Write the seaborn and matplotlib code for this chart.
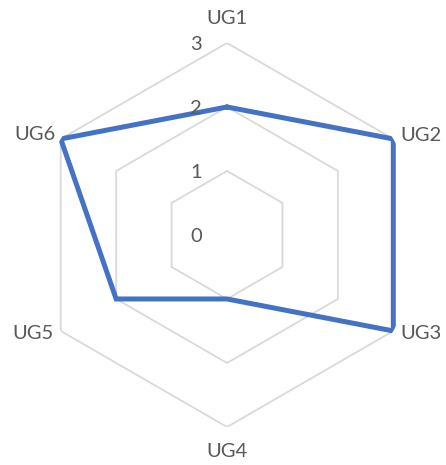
import numpy as np
import seaborn as sns
import matplotlib
matplotlib.use('Agg')
from matplotlib import pyplot as plt
from matplotlib.transforms import offset_copy

# data
categories = ['UG1', 'UG2', 'UG3', 'UG4', 'UG5', 'UG6']
scores = [2, 3, 3, 1, 2, 3]
tick_values = [0, 1, 2, 3]
tick_labels = ['0', '1', '2', '3']

sns.set_theme(style='white')
plt.rcParams['font.family'] = ['Lato', 'DejaVu Sans']

text_color = '#595959'
grid_color = '#D9D9D9'
line_color = '#4472C4'
font_size = 14.5

fig = plt.figure(figsize=(4.46, 4.65), dpi=100)
ax = fig.add_axes([0.0785, 0.0817, 0.861, 0.826], projection='polar')
ax.set_theta_zero_location('N')
ax.set_theta_direction(-1)

n = len(categories)
angles = np.arange(n) * 2 * np.pi / n
closed_angles = np.append(angles, angles[0])

# hexagonal grid (no spokes, like excel radar)
for level in tick_values[1:]:
    ax.plot(closed_angles, [level] * (n + 1), color=grid_color, lw=1.3, zorder=1)

# data line
closed_scores = scores + scores[:1]
sns.lineplot(x=closed_angles, y=closed_scores, sort=False, estimator=None, ax=ax,
             color=line_color, lw=3.6, zorder=3)
for line in ax.lines:
    line.set_solid_joinstyle('miter')

ax.set_ylim(tick_values[0], tick_values[-1])
ax.set_xticks([])
ax.set_yticks([])
ax.grid(False)
ax.spines['polar'].set_visible(False)
ax.set_xlabel('')
ax.set_ylabel('')

# radial value labels left of the top axis
for val, lab in zip(tick_values, tick_labels):
    tr = offset_copy(ax.transData, fig, x=-31, y=-1.5, units='dots')
    ax.text(0, val, lab, transform=tr, ha='center', va='center',
            fontsize=font_size, color=text_color)

# category labels around the outer ring
label_offsets = {
    'UG1': (0, 24, 'center'),
    'UG2': (7, 3, 'left'),
    'UG3': (7, -2.5, 'left'),
    'UG4': (0, -25, 'center'),
    'UG5': (-7, -2.5, 'right'),
    'UG6': (-5, 4.5, 'right'),
}
for ang, cat in zip(angles, categories):
    dx, dy, ha = label_offsets[cat]
    tr = offset_copy(ax.transData, fig, x=dx, y=dy, units='dots')
    ax.text(ang, tick_values[-1], cat, transform=tr, ha=ha, va='center',
            fontsize=font_size, color=text_color)

plt.savefig('out.png', dpi=100)
